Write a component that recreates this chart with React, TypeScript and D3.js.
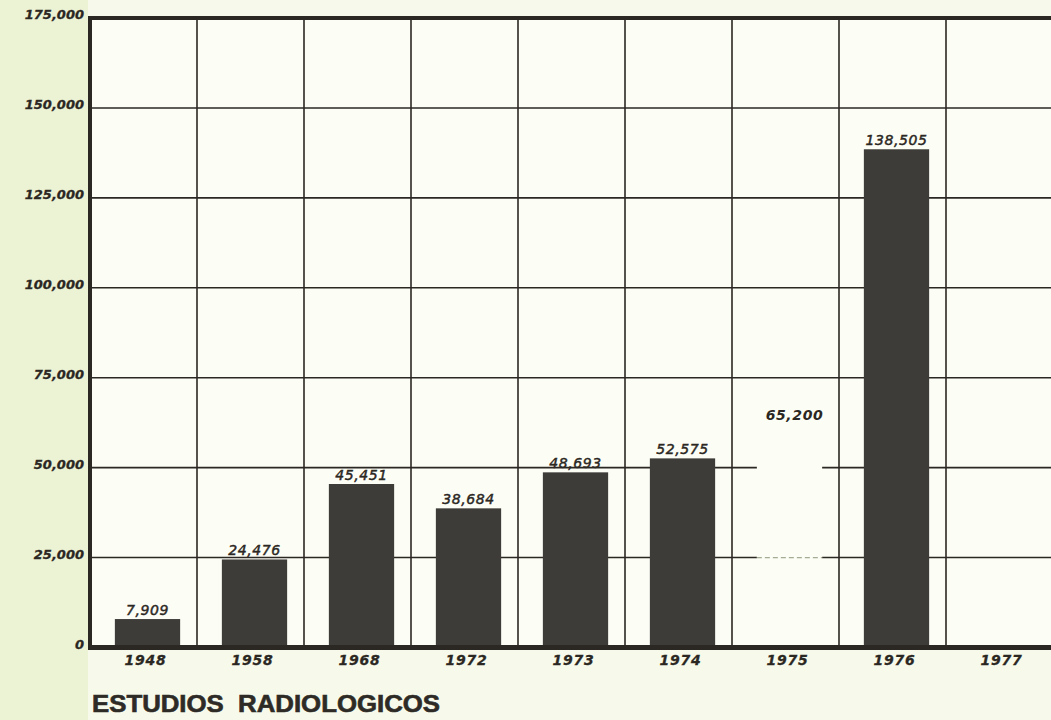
import React, { useRef, useEffect } from "react";
import * as d3 from "d3";

// values
const years = ["1948", "1958", "1968", "1972", "1973", "1974", "1975", "1976", "1977"];
const studies: (number | null)[] = [7909, 24476, 45451, 38684, 48693, 52575, 65200, 138505, null];
const valueLabels = ["7,909", "24,476", "45,451", "38,684", "48,693", "52,575", "65,200", "138,505", ""];
// the 1975 bar was blanked out on the original sheet, only its label remains
const erased = [false, false, false, false, false, false, true, false, false];
const yTicks = [0, 25000, 50000, 75000, 100000, 125000, 150000, 175000];
const yTickLabels = ["0", "25,000", "50,000", "75,000", "100,000", "125,000", "150,000", "175,000"];
const title = "ESTUDIOS  RADIOLOGICOS";

const W = 1051;
const H = 720;
const paper = "#fcfdf4";
const ink = "#2b2723";
const barInk = "#3d3c38";
const font = "'DejaVu Sans', sans-serif";

export default function App() {
    const ref = useRef<SVGSVGElement>(null);

    useEffect(() => {
        document.body.style.margin = "0";
        const svg = d3.select(ref.current);
        svg.selectAll("*").remove();

        const left = 90, right = 1053, top = 18, bottom = 647.5;

        const col = d3.scaleBand<string>().domain(years).range([left, right]).padding(0);
        const y = d3.scaleLinear().domain([0, 175000]).range([bottom, top]);
        const step = col.step();
        const barW = step * 0.61;
        const barX = (c: string) => (col(c) as number) + (step - barW) / 2 + 4;

        svg.append("rect").attr("width", W).attr("height", H).attr("fill", "#ecf3d4");
        svg.append("rect").attr("x", 88).attr("y", 0).attr("width", W - 88).attr("height", H).attr("fill", "#f7faea");
        svg.append("rect")
            .attr("x", left).attr("y", top).attr("width", right - left).attr("height", bottom - top)
            .attr("fill", paper);

        // horizontal grid
        svg.append("g")
            .selectAll("line")
            .data(yTicks.slice(1, -1))
            .enter()
            .append("line")
            .attr("x1", left).attr("x2", right)
            .attr("y1", (d) => y(d)).attr("y2", (d) => y(d))
            .attr("stroke", ink).attr("stroke-width", 1.6);

        // vertical grid at column edges
        svg.append("g")
            .selectAll("line")
            .data(years.slice(1))
            .enter()
            .append("line")
            .attr("x1", (d) => col(d) as number).attr("x2", (d) => col(d) as number)
            .attr("y1", top).attr("y2", bottom)
            .attr("stroke", ink).attr("stroke-width", 1.6);

        const data = years.map((c, i) => ({ c, v: studies[i], label: valueLabels[i], erased: erased[i] }));

        // bars
        svg.append("g")
            .selectAll("rect")
            .data(data.filter((d) => d.v !== null))
            .enter()
            .append("rect")
            .attr("x", (d) => barX(d.c))
            .attr("y", (d) => y(d.v as number))
            .attr("width", barW)
            .attr("height", (d) => bottom - y(d.v as number))
            .attr("fill", (d) => (d.erased ? paper : barInk));

        // faint remains of the grid line through the blanked bar
        data.filter((d) => d.erased).forEach((d) => {
            svg.append("line")
                .attr("x1", barX(d.c)).attr("x2", barX(d.c) + barW)
                .attr("y1", y(25000)).attr("y2", y(25000))
                .attr("stroke", "#a3ad95").attr("stroke-width", 1.2)
                .attr("stroke-dasharray", "5,3");
        });

        // frame: thick top, left and baseline
        svg.append("line").attr("x1", left - 2).attr("x2", right).attr("y1", top).attr("y2", top)
            .attr("stroke", ink).attr("stroke-width", 4);
        svg.append("line").attr("x1", left).attr("x2", left).attr("y1", top - 2).attr("y2", bottom + 2)
            .attr("stroke", ink).attr("stroke-width", 4);
        svg.append("line").attr("x1", left - 2).attr("x2", right).attr("y1", bottom).attr("y2", bottom)
            .attr("stroke", ink).attr("stroke-width", 5);

        // value labels
        svg.append("g")
            .selectAll("text")
            .data(data.filter((d) => d.v !== null))
            .enter()
            .append("text")
            .attr("x", (d) => barX(d.c) + barW / 2 + (d.erased ? 5 : 0))
            .attr("y", (d) => y(d.v as number) - (d.erased ? -7 : 4))
            .attr("text-anchor", "middle")
            .attr("font-family", font)
            .attr("font-style", "italic")
            .attr("font-weight", (d) => (d.erased ? "bold" : "normal"))
            .attr("font-size", 14)
            .attr("letter-spacing", 0.6)
            .attr("fill", ink)
            .attr("stroke", ink)
            .attr("stroke-width", (d) => (d.erased ? 0 : 0.45))
            .text((d) => d.label);

        // y tick labels
        svg.append("g")
            .selectAll("text")
            .data(yTicks)
            .enter()
            .append("text")
            .attr("x", 84)
            .attr("y", (d) => y(d) + 1)
            .attr("text-anchor", "end")
            .attr("font-family", font)
            .attr("font-style", "italic")
            .attr("font-weight", "bold")
            .attr("font-size", 13)
            .attr("fill", ink)
            .attr("stroke", ink)
            .attr("stroke-width", 0.3)
            .text((d, i) => yTickLabels[i]);

        // year labels
        svg.append("g")
            .selectAll("text")
            .data(years)
            .enter()
            .append("text")
            .attr("x", (d) => (col(d) as number) + step / 2 + 2)
            .attr("y", 665)
            .attr("text-anchor", "middle")
            .attr("font-family", font)
            .attr("font-style", "italic")
            .attr("font-weight", "bold")
            .attr("font-size", 14)
            .attr("letter-spacing", 0.8)
            .attr("fill", ink)
            .attr("stroke", ink)
            .attr("stroke-width", 0.3)
            .text((d) => d);

        svg.append("text")
            .attr("x", 92)
            .attr("y", 712)
            .attr("font-family", "'Liberation Sans', Arial, sans-serif")
            .attr("font-weight", "bold")
            .attr("font-size", 23)
            .attr("textLength", 348)
            .attr("lengthAdjust", "spacingAndGlyphs")
            .attr("fill", "#2e2b27")
            .attr("stroke", "#2e2b27")
            .attr("stroke-width", 0.6)
            .style("white-space", "pre")
            .text(title);
    }, []);

    return (
        <div style={{ position: "absolute", left: 0, top: 0, width: W, height: H, overflow: "hidden" }}>
            <svg ref={ref} width={W} height={H}></svg>
        </div>
    );
}
